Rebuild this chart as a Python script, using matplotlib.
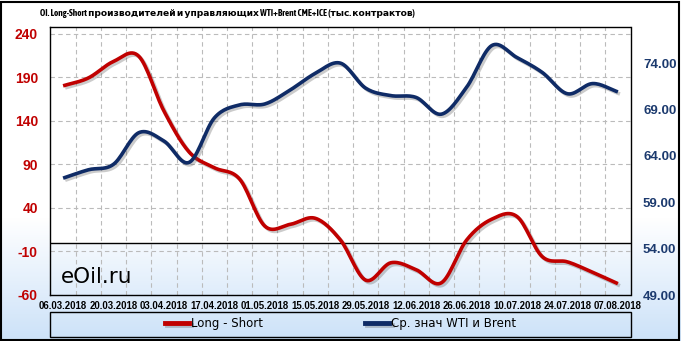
import numpy as np
import matplotlib
matplotlib.use("Agg")
import matplotlib.pyplot as plt
import matplotlib.patheffects as pe
from matplotlib import font_manager
from matplotlib.patches import Rectangle
from matplotlib.lines import Line2D

# weekly report dates
dates = ["06.03.2018", "13.03.2018", "20.03.2018", "27.03.2018", "03.04.2018",
         "10.04.2018", "17.04.2018", "24.04.2018", "01.05.2018", "08.05.2018",
         "15.05.2018", "22.05.2018", "29.05.2018", "05.06.2018", "12.06.2018",
         "19.06.2018", "26.06.2018", "03.07.2018", "10.07.2018", "17.07.2018",
         "24.07.2018", "31.07.2018", "07.08.2018"]

# Long - Short, thousand contracts (left axis)
long_short = [180, 189, 208, 214, 151, 104, 86, 73, 19, 21, 28, 3, -43,
              -23, -31, -46, 3, 27, 30, -16, -22, -34, -47]

# average WTI / Brent price (right axis)
wti_brent = [61.6, 62.5, 63.1, 66.5, 65.6, 63.3, 68.1, 69.5, 69.6, 71.1,
             72.9, 74.0, 71.3, 70.5, 70.3, 68.5, 71.4, 75.9, 74.6, 73.0,
             70.7, 71.8, 70.9]

left_ticks = [-60, -10, 40, 90, 140, 190, 240]
right_ticks = [49, 54, 59, 64, 69, 74]

TITLE = "OI. Long-Short производителей и управляющих WTI+Brent CME+ICE (тыс. контрактов)"

RED = "#c00000"
NAVY = "#0f2b66"
LBL_NAVY = "#1c3a6e"


def smooth(y, n=16):
    # catmull-rom through the points, only for drawing a smooth line
    y = np.asarray(y, float)
    p = np.concatenate([[2 * y[0] - y[1]], y, [2 * y[-1] - y[-2]]])
    xs, ys = [], []
    t = np.linspace(0, 1, n, endpoint=False)
    for i in range(len(y) - 1):
        p0, p1, p2, p3 = p[i], p[i + 1], p[i + 2], p[i + 3]
        v = 0.5 * ((2 * p1) + (-p0 + p2) * t + (2 * p0 - 5 * p1 + 4 * p2 - p3) * t ** 2
                   + (-p0 + 3 * p1 - 3 * p2 + p3) * t ** 3)
        xs.extend(i + t)
        ys.extend(v)
    xs.append(len(y) - 1)
    ys.append(y[-1])
    return np.array(xs), np.array(ys)


def narrow_font():
    # look for a condensed / narrow bold face, fall back to Liberation Sans
    for f in font_manager.fontManager.ttflist:
        nm = f.name.lower()
        if ("narrow" in nm or "condensed" in nm) and f.weight in (600, 700, "bold"):
            return dict(family=[f.name, "DejaVu Sans"])
    for f in font_manager.fontManager.ttflist:
        if f.name in ("DejaVu Sans", "Noto Sans") and "condensed" in str(f.stretch):
            return dict(family=[f.name], fontstretch="condensed")
    return dict(family=["Liberation Sans", "DejaVu Sans"])


fig = plt.figure(figsize=(6.81, 3.41), dpi=100)

# background gradient: white on top, light blue at the bottom
bg = fig.add_axes([0, 0, 1, 1], zorder=-5)
bg.axis("off")
g = np.clip(np.linspace(1, 0, 341) / 0.36, 0, 1)  # 1 at the top, 0 at the bottom
top = np.array([1.0, 1.0, 1.0])
bot = np.array([0.80, 0.885, 0.975])
img = (bot + (top - bot) * g[:, None])[:, None, :] * np.ones((1, 2, 1))
bg.imshow(img, aspect="auto", extent=[0, 1, 0, 1], origin="upper")
bg.set_xlim(0, 1)
bg.set_ylim(0, 1)

ax = fig.add_axes([50.5 / 681, 1 - 295 / 341, 580 / 681, 268 / 341])
ax.set_facecolor("none")
x = np.arange(len(dates))
ax.set_xlim(-0.5, len(dates) - 0.5)
ax.set_ylim(-60, 247.5)
ax.axhspan(0, 247.5, color="white", zorder=0, lw=0)

for yv in left_ticks:
    ax.axhline(yv, color="#bbbbbb", lw=0.8, ls=(0, (4, 3)), zorder=1)
for xv in x[:-1] + 0.5:
    ax.axvline(xv, color="#bbbbbb", lw=0.8, ls=(0, (4, 3)), zorder=1)
ax.axhline(0, color="black", lw=1.0, zorder=2)

shadow = [pe.SimpleLineShadow(offset=(1.5, -1.5), shadow_color="#555555", alpha=0.3),
          pe.Normal()]

sx, sy = smooth(long_short)
ax.plot(sx, sy, color=RED, lw=2.6, solid_capstyle="butt", zorder=4, path_effects=shadow)

ax.set_yticks(left_ticks)
ax.set_yticklabels([str(v) for v in left_ticks])
ax.tick_params(axis="y", length=0, pad=9, labelcolor=RED)
for lab in ax.get_yticklabels():
    lab.set_fontfamily("Liberation Sans")
    lab.set_fontweight("bold")
    lab.set_fontsize(10)

ax.set_xticks(x[::2])
ax.set_xticklabels(dates[::2])
ax.tick_params(axis="x", length=0, pad=4)
for lab in ax.get_xticklabels():
    lab.set_fontfamily("Liberation Sans")
    lab.set_fontweight("bold")
    lab.set_fontsize(6.9)

for s in ax.spines.values():
    s.set_color("black")
    s.set_linewidth(1.0)

ax2 = ax.twinx()
ax2.set_ylim(49, 77.9)
bx, by = smooth(wti_brent)
ax2.plot(bx, by, color=NAVY, lw=2.6, solid_capstyle="butt", zorder=4, path_effects=shadow)
ax2.set_yticks(right_ticks)
ax2.set_yticklabels(["%.2f" % v for v in right_ticks])
ax2.tick_params(axis="y", length=0, pad=9, labelcolor=LBL_NAVY)
for lab in ax2.get_yticklabels():
    lab.set_fontfamily("Liberation Sans")
    lab.set_fontweight("bold")
    lab.set_fontsize(9.5)
for s in ax2.spines.values():
    s.set_visible(False)

title = fig.text(40 / 681, 1 - 16 / 341, TITLE, fontweight="bold", fontsize=8.2,
                 va="baseline", ha="left", **narrow_font())
# fit the title to the width it takes in the reference (about 378 px)
fig.canvas.draw()
w = title.get_window_extent().width
title.set_fontsize(min(8.2, 8.2 * 378 / w))

fig.text(61 / 681, 1 - 283 / 341, "eOil.ru", fontsize=15.5, va="baseline",
         ha="left", family="DejaVu Sans")

# legend box
fig.patches.append(Rectangle((50 / 681, 1 - 337 / 341), 581 / 681, 25 / 341,
                             transform=fig.transFigure, fill=False,
                             edgecolor="black", lw=1.0))
handles = [Line2D([], [], color=RED, lw=3.5, path_effects=shadow),
           Line2D([], [], color=NAVY, lw=3.5, path_effects=shadow)]
fig.legend(handles, ["Long - Short", "Ср. знач WTI и Brent"], loc="center",
           bbox_to_anchor=(340.5 / 681, 1 - 324 / 341), ncol=2, frameon=False,
           prop={"family": "DejaVu Sans", "size": 8.5}, handlelength=2.1,
           handletextpad=0.15, columnspacing=8.6, borderpad=0)

# outer border
fig.patches.append(Rectangle((1 / 681, 1 / 341), 678 / 681, 338 / 341,
                             transform=fig.transFigure, fill=False,
                             edgecolor="black", lw=1.5))

fig.savefig("out.png", dpi=100)
